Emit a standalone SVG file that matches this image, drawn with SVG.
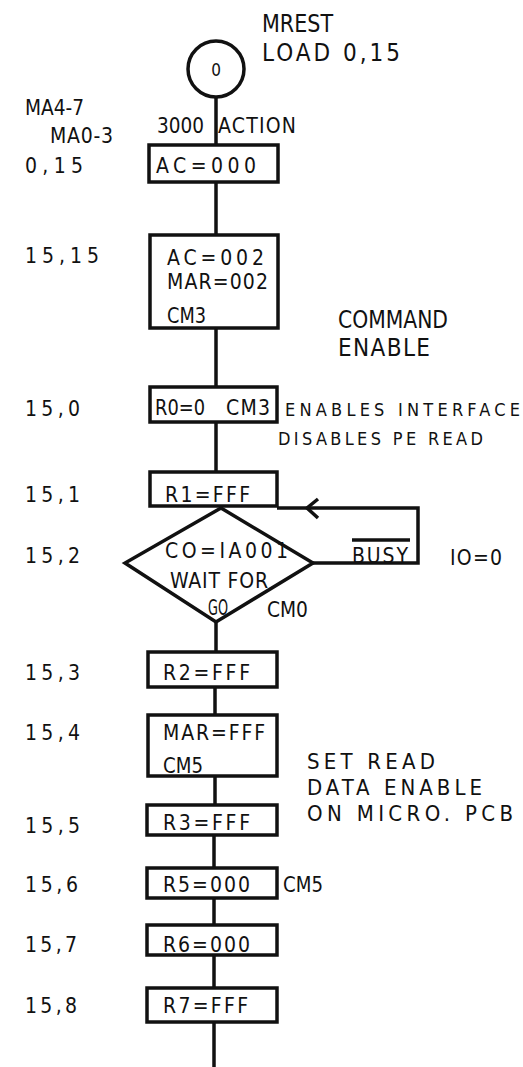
<svg xmlns="http://www.w3.org/2000/svg" width="523" height="1067" viewBox="0 0 523 1067">
<style>
text{font-family:"DejaVu Sans Condensed","DejaVu Sans",sans-serif;fill:#111}
.s{font-size:18px}
.c{font-size:17px}
.m{font-size:21px}
.b{font-size:21px}
.l{font-size:24px}
.n{font-size:22px}
.box{fill:#fff;stroke:#111;stroke-width:3.5}
.ln{fill:none;stroke:#111;stroke-width:3.5}
</style>
<rect width="523" height="1067" fill="#fff"/>

<g id="connectors">
<path class="ln" d="M216,97 V145"/>
<path class="ln" d="M216,182 V235"/>
<path class="ln" d="M216,328 V387"/>
<path class="ln" d="M216,422 V472"/>
<path class="ln" d="M216,622 V652"/>
<path class="ln" d="M215,687 V715"/>
<path class="ln" d="M215,776 V805"/>
<path class="ln" d="M214,835 V868"/>
<path class="ln" d="M214,898 V925"/>
<path class="ln" d="M214,955 V988"/>
<path class="ln" d="M214,1022 V1067"/>
<path class="ln" d="M313,563 H418 V508 H277"/>
<path class="ln" d="M318,499 L307,508 L318,518" stroke-width="3"/>
</g>

<g id="annotations">
<text class="l" x="262" y="32" textLength="71" lengthAdjust="spacingAndGlyphs">MREST</text>
<text class="l" x="262" y="61" textLength="138" lengthAdjust="spacing">LOAD 0,15</text>
<text class="m" x="25" y="115" textLength="59" lengthAdjust="spacingAndGlyphs">MA4-7</text>
<text class="m" x="50" y="143" textLength="63" lengthAdjust="spacing">MA0-3</text>
<text class="m" x="25" y="173" textLength="58" lengthAdjust="spacing">0,15</text>
<text class="m" x="157" y="133" textLength="47" lengthAdjust="spacingAndGlyphs">3000</text>
<text class="m" x="218" y="133" textLength="78" lengthAdjust="spacing">ACTION</text>
<text class="m" x="25" y="263" textLength="74" lengthAdjust="spacing">15,15</text>
<text class="l" x="338" y="328" textLength="110" lengthAdjust="spacingAndGlyphs">COMMAND</text>
<text class="l" x="338" y="356" textLength="92" lengthAdjust="spacing">ENABLE</text>
<text class="m" x="25" y="416" textLength="55" lengthAdjust="spacing">15,0</text>
<text class="s" x="285" y="416" textLength="235" lengthAdjust="spacing">ENABLES  INTERFACE</text>
<text class="s" x="278" y="445" textLength="205" lengthAdjust="spacing">DISABLES PE READ</text>
<text class="m" x="25" y="502" textLength="55" lengthAdjust="spacing">15,1</text>
<text class="m" x="25" y="563" textLength="55" lengthAdjust="spacing">15,2</text>
<text class="m" x="352" y="563" textLength="56" lengthAdjust="spacing">BUSY</text>
<path class="ln" d="M352,540 H410" stroke-width="1.5"/>
<text class="m" x="450" y="565" textLength="52" lengthAdjust="spacing">IO=0</text>
<text class="m" x="267" y="617" textLength="41" lengthAdjust="spacingAndGlyphs">CM0</text>
<text class="m" x="25" y="680" textLength="55" lengthAdjust="spacing">15,3</text>
<text class="m" x="25" y="740" textLength="55" lengthAdjust="spacing">15,4</text>
<text class="n" x="307" y="769" textLength="128" lengthAdjust="spacing">SET READ</text>
<text class="n" x="307" y="795" textLength="175" lengthAdjust="spacing">DATA ENABLE</text>
<text class="n" x="307" y="821" textLength="206" lengthAdjust="spacing">ON MICRO. PCB</text>
<text class="m" x="25" y="833" textLength="55" lengthAdjust="spacing">15,5</text>
<text class="m" x="25" y="892" textLength="53" lengthAdjust="spacing">15,6</text>
<text class="m" x="283" y="892" textLength="40" lengthAdjust="spacingAndGlyphs">CM5</text>
<text class="m" x="25" y="952" textLength="52" lengthAdjust="spacing">15,7</text>
<text class="m" x="25" y="1013" textLength="52" lengthAdjust="spacing">15,8</text>
</g>

<g id="start">
<circle cx="216" cy="69" r="28" fill="#fff" stroke="#111" stroke-width="3.5"/>
<text class="c" x="216" y="76" text-anchor="middle">0</text>
</g>

<g id="n-ac000">
<rect class="box" x="149" y="145" width="129" height="37"/>
<text class="b" x="156" y="173" textLength="100" lengthAdjust="spacing">AC=000</text>
</g>

<g id="n-ac002">
<rect class="box" x="150" y="235" width="128" height="93"/>
<text class="b" x="167" y="265" textLength="97" lengthAdjust="spacing">AC=002</text>
<text class="b" x="167" y="289" textLength="101" lengthAdjust="spacing">MAR=002</text>
<text class="b" x="167" y="323" textLength="39" lengthAdjust="spacingAndGlyphs">CM3</text>
</g>

<g id="n-r0">
<rect class="box" x="150" y="387" width="127" height="35"/>
<text class="b" x="155" y="415" textLength="50" lengthAdjust="spacingAndGlyphs">R0=0</text>
<text class="b" x="226" y="415" textLength="44" lengthAdjust="spacing">CM3</text>
</g>

<g id="n-r1">
<rect class="box" x="150" y="472" width="127" height="34"/>
<text class="b" x="165" y="502" textLength="85" lengthAdjust="spacing">R1=FFF</text>
</g>

<g id="n-wait">
<polygon class="box" points="221,508 313,563 216,622 125,563"/>
<text class="m" x="165" y="558" textLength="123" lengthAdjust="spacing">CO=IA001</text>
<text class="m" x="170" y="588" textLength="98" lengthAdjust="spacing">WAIT FOR</text>
<text class="m" x="208" y="615" textLength="20" lengthAdjust="spacingAndGlyphs">GO</text>
</g>

<g id="n-r2">
<rect class="box" x="148" y="652" width="129" height="35"/>
<text class="b" x="163" y="680" textLength="87" lengthAdjust="spacing">R2=FFF</text>
</g>

<g id="n-marfff">
<rect class="box" x="148" y="715" width="129" height="61"/>
<text class="b" x="163" y="740" textLength="102" lengthAdjust="spacing">MAR=FFF</text>
<text class="b" x="163" y="773" textLength="40" lengthAdjust="spacingAndGlyphs">CM5</text>
</g>

<g id="n-r3">
<rect class="box" x="147" y="805" width="130" height="30"/>
<text class="b" x="163" y="830" textLength="87" lengthAdjust="spacing">R3=FFF</text>
</g>

<g id="n-r5">
<rect class="box" x="147" y="868" width="130" height="30"/>
<text class="b" x="163" y="892" textLength="87" lengthAdjust="spacing">R5=000</text>
</g>

<g id="n-r6">
<rect class="box" x="147" y="925" width="130" height="30"/>
<text class="b" x="163" y="952" textLength="87" lengthAdjust="spacing">R6=000</text>
</g>

<g id="n-r7">
<rect class="box" x="147" y="988" width="130" height="34"/>
<text class="b" x="163" y="1013" textLength="85" lengthAdjust="spacing">R7=FFF</text>
</g>
</svg>
